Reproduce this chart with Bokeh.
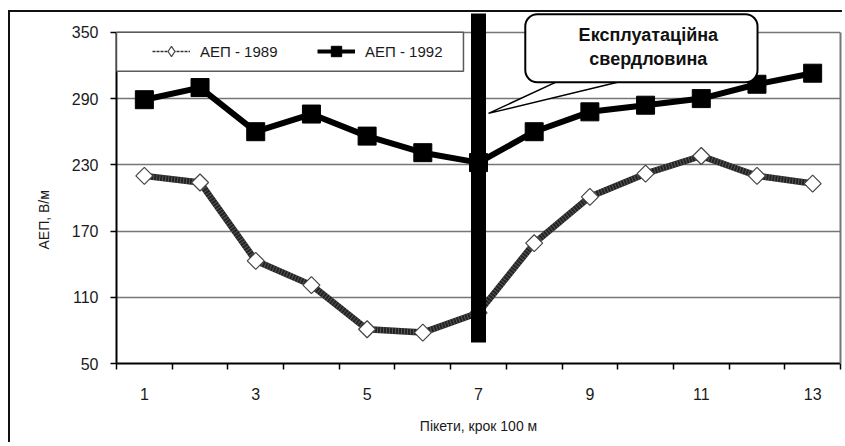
import math
from bokeh.plotting import figure
from bokeh.models import (Range1d, FixedTicker, LinearAxis, Legend, LegendItem,
                          BoxAnnotation, Label, Title, ColumnDataSource)
from bokeh.embed import file_html
from bokeh.resources import INLINE

# ---------------- data ----------------
pickets = list(range(1, 14))
aep_1989 = [220, 214, 143, 121, 81, 78, 96, 159, 201, 222, 238, 220, 213]
aep_1992 = [289, 300, 260, 276, 256, 241, 232, 260, 278, 284, 290, 303, 313]
x_tick_labels = [1, 3, 5, 7, 9, 11, 13]
y_ticks = [50, 110, 170, 230, 290, 350]
well_x = [7]
well_bottom = [69]
well_top = [367]
series_labels = ["АЕП - 1989", "АЕП - 1992"]
callout_text = "Експлуатаційна\nсвердловина"
x_title = "Пікети, крок 100 м"
y_title = "АЕП, В/м"

FONT = "Liberation Sans"
NAN = [math.nan]

p = figure(width=834, height=432, output_backend="svg", toolbar_location=None,
           x_range=Range1d(0.5, 13.5), y_range=Range1d(50, 368),
           min_border_left=106, min_border_right=4, min_border_top=0,
           min_border_bottom=81,
           background_fill_color="white", border_fill_color="white",
           outline_line_color=None)
p.styles = {"margin-top": "10px", "margin-left": "8px",
            "border-top": "2px solid #111", "border-left": "2px solid #111"}

# ---------------- axes ----------------
xa = p.xaxis[0]
xa.ticker = FixedTicker(ticks=x_tick_labels,
                        minor_ticks=[i + 0.5 for i in range(0, 14)])
xa.major_tick_out = 0
xa.major_tick_in = 0
xa.minor_tick_out = 6
xa.minor_tick_in = 0
xa.minor_tick_line_color = "black"
xa.minor_tick_line_width = 1.5
xa.axis_line_color = "black"
xa.axis_line_width = 2
xa.major_label_standoff = 18
xa.major_label_text_font = FONT
xa.major_label_text_font_size = "16px"
xa.major_label_text_color = "#1a1a1a"
xa.axis_label = x_title
xa.axis_label_text_font = FONT
xa.axis_label_text_font_style = "normal"
xa.axis_label_text_font_size = "14px"
xa.axis_label_text_color = "#1a1a1a"
xa.axis_label_standoff = 15

ya = p.yaxis[0]
ya.ticker = FixedTicker(ticks=y_ticks, minor_ticks=[])
ya.bounds = (50, 350)
ya.major_tick_out = 6
ya.major_tick_in = 0
ya.major_tick_line_color = "black"
ya.major_tick_line_width = 1.5
ya.minor_tick_line_color = None
ya.axis_line_color = "black"
ya.axis_line_width = 2
ya.major_label_standoff = 12
ya.major_label_text_font = FONT
ya.major_label_text_font_size = "16px"
ya.major_label_text_color = "#1a1a1a"

# y title as a side title (allows shifting along the axis)
p.add_layout(Title(text=y_title, align="left", offset=114, standoff=30,
                   vertical_align="top",
                   text_font=FONT, text_font_style="normal",
                   text_font_size="14px", text_color="#1a1a1a"), "left")

rax = LinearAxis(ticker=FixedTicker(ticks=[]), bounds=(50, 350),
                 axis_line_color="#767676", axis_line_width=2,
                 major_tick_line_color=None, minor_tick_line_color=None,
                 major_label_text_font_size="0px")
p.add_layout(rax, "right")

p.xgrid.visible = False
p.ygrid.ticker = FixedTicker(ticks=y_ticks[1:])
p.ygrid.grid_line_color = "#767676"
p.ygrid.grid_line_width = 1.5

# ---------------- series ----------------
src = ColumnDataSource(dict(x=pickets, y89=aep_1989, y92=aep_1992))
p.line('x', 'y89', source=src, line_color="#222222", line_width=6.5)
p.line('x', 'y89', source=src, line_color="#9a9a9a", line_width=6.5,
       line_dash="1 2", line_alpha=0.45)
p.scatter('x', 'y89', source=src, marker="square", angle=math.pi / 4, size=12,
          fill_color="white", line_color="#444444", line_width=1.2)
p.line('x', 'y92', source=src, line_color="black", line_width=6)
p.scatter('x', 'y92', source=src, marker="square", size=18,
          fill_color="black", line_color="black")

# well marker
p.segment(x0=well_x, y0=well_bottom, x1=well_x, y1=well_top,
          line_color="black", line_width=15, line_cap="butt")

# ---------------- callout ----------------
p.patch(x=[8.44, 7.18, 9.59], y=[306, 276.6, 306], fill_color="white",
        line_color="black", line_width=1.5)
callout_box = BoxAnnotation(left=7.84, right=12.01, bottom=304.8, top=366.5,
                            border_radius=12, fill_color="white", fill_alpha=1,
                            line_color="black", line_alpha=1, line_width=2)
p.add_layout(callout_box)
p.add_layout(Label(x=10.05, y=337, text=callout_text, text_font=FONT,
                   text_font_style="bold", text_font_size="18px",
                   text_align="center", text_baseline="middle",
                   text_line_height=1.2, text_color="#111111"))

# ---------------- legend ----------------
legend_box = BoxAnnotation(left=0.5, right=6.73, bottom=314.8, top=350,
                           fill_color="white", fill_alpha=1,
                           line_color="#5a5a5a", line_alpha=1, line_width=1.5)
p.add_layout(legend_box)

l89 = p.line(x=NAN, y=NAN, line_color="#333333", line_width=1.5, line_dash="3 1")
m89 = p.scatter(x=NAN, y=NAN, marker="diamond", size=12,
                fill_color="white", line_color="#444444", line_width=1.2)
l92 = p.line(x=NAN, y=NAN, line_color="black", line_width=4)
m92 = p.scatter(x=NAN, y=NAN, marker="square", size=12, fill_color="black",
                line_color="black")

legend = Legend(items=[LegendItem(label=series_labels[0], renderers=[l89, m89]),
                       LegendItem(label=series_labels[1], renderers=[l92, m92])],
                location=(36, 299), orientation="horizontal", padding=0,
                spacing=17, glyph_width=38, glyph_height=26, label_height=26,
                label_width=100, label_standoff=10, border_line_color=None,
                background_fill_alpha=0, label_text_font=FONT,
                label_text_font_size="15px", label_text_color="#1a1a1a",
                margin=0)
p.add_layout(legend)

open("out.html", "w").write(file_html(p, INLINE))
